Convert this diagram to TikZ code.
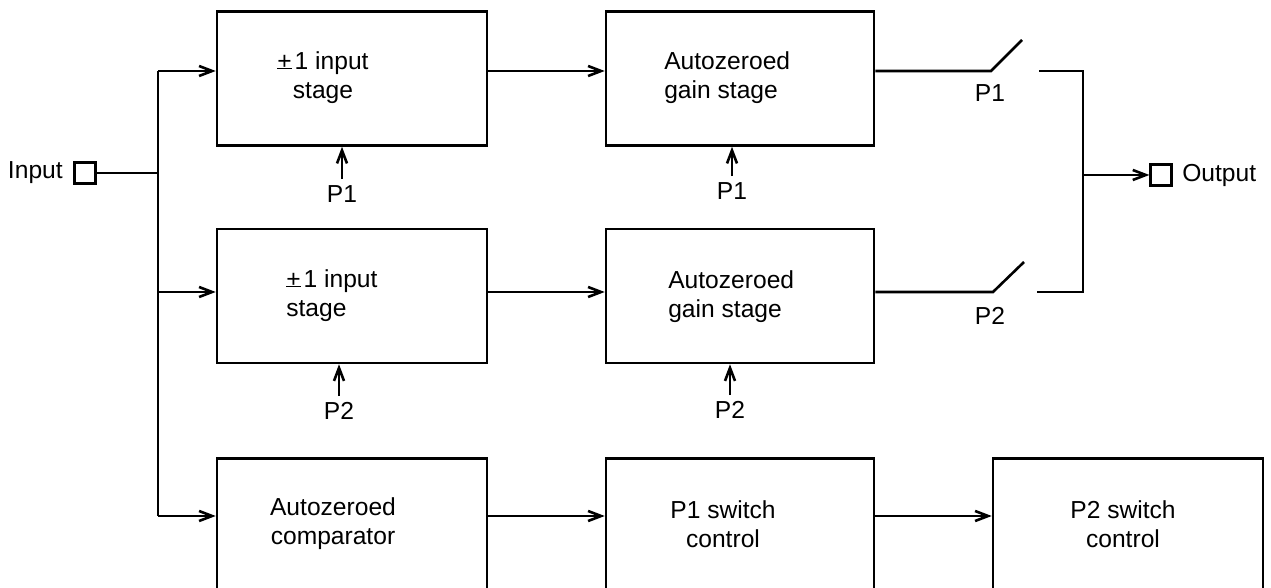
\documentclass[tikz,border=0pt]{standalone}
\usepackage{fontspec}
\setmainfont{Liberation Sans}
\usetikzlibrary{arrows.meta,positioning}

\newcommand{\pmone}{\rlap{\rule[0.3pt]{0.58em}{0.8pt}}+\kern1.5pt 1}

\begin{document}
\begin{tikzpicture}[x=0.5pt,y=-0.5pt,line width=1.3pt,
    blk/.style={draw,rectangle,minimum height=67pt,inner sep=0pt},
    blka/.style={blk,minimum width=135pt},
    blkb/.style={blk,minimum width=134pt},
    blkopen/.style={draw,rectangle,minimum height=100pt,inner sep=0pt,anchor=north},
    txt/.style={font=\fontsize{12.3}{14.5}\selectfont,inner sep=0pt},
    port/.style={draw,rectangle,minimum size=10.5pt,inner sep=0pt,line width=1.1pt},
    arr/.style={-{Straight Barb[length=6.5pt,width=5pt]}}]
  \useasboundingbox (0,0) rectangle (1271,588);

  % signal rows and buses
  \coordinate (r1) at (0,71);
  \coordinate (r2) at (0,292);
  \coordinate (r3) at (0,516);
  \coordinate (bus) at (158,0);
  \coordinate (obus) at (1083,175);

  % blocks
  \node[blka] (a1) at (352,78.5) {};
  \node[blkb] (b1) at (740,78.5) {};
  \node[blka] (a2) at (352,296) {};
  \node[blkb] (b2) at (740,296) {};
  \node[blkopen,minimum width=135pt] (cmp) at (352,457) {};
  \node[blkopen,minimum width=134pt] (sw1) at (740,457) {};
  \node[blkopen,minimum width=135pt] (sw2) at (1128,457) {};

  % block texts
  \node[txt,align=center] (a1t) at (323,78) {\pmone{} input\\stage};
  \node[txt,align=left,anchor=west] (b1t) at (663,78) {Autozeroed\\gain stage};
  \node[txt,align=left,anchor=west] (a2t) at (285,296) {\pmone{} input\\stage};
  \node[txt,align=left,anchor=west] (b2t) at (667,297) {Autozeroed\\gain stage};
  \node[txt,align=center] (cmpt) at (333,524) {Autozeroed\\comparator};
  \node[txt,align=center] (sw1t) at (723,524) {P1 switch\\control};
  \node[txt,align=center] (sw2t) at (1123,524) {P2 switch\\control};

  % ports
  \node[port] (inp) at (85,173) {};
  \node[txt,anchor=east] (inpt) at (64,173) {Input};
  \node[port] (outp) at (1161,175) {};
  \node[txt,anchor=west] (outpt) at (1181,175) {Output};

  % clock labels
  \node[txt] (p1a) at (342,194) {P1};
  \node[txt] (p1b) at (732,191) {P1};
  \node[txt] (p2a) at (339,411) {P2};
  \node[txt] (p2b) at (730,410) {P2};
  \node[txt] (p1s) at (990,93) {P1};
  \node[txt] (p2s) at (990,316) {P2};

  % input bus
  \draw (inp.east) -- (inp.east -| bus);
  \draw (bus |- r1) -- (bus |- r3);
  \draw[arr] (bus |- r1) -- (a1.west |- r1);
  \draw[arr] (bus |- r2) -- (a2.west |- r2);
  \draw[arr] (bus |- r3) -- (cmp.west |- r3);

  % forward paths
  \draw[arr] (a1.east |- r1) -- (b1.west |- r1);
  \draw[arr] (a2.east |- r2) -- (b2.west |- r2);
  \draw[arr] (cmp.east |- r3) -- (sw1.west |- r3);
  \draw[arr] (sw1.east |- r3) -- (sw2.west |- r3);

  % clock inputs
  \foreach \lb/\bk in {p1a/a1,p1b/b1,p2a/a2,p2b/b2}
    \draw[arr,shorten <=2.5pt] (\lb.north) -- (\lb.north |- \bk.south);

  % output switches
  \coordinate (s1a) at (991,71);
  \coordinate (s1b) at (1022,40);
  \coordinate (s1c) at (1039,71);
  \coordinate (s2a) at (993,292);
  \coordinate (s2b) at (1024,262);
  \coordinate (s2c) at (1037,292);
  \draw (b1.east |- r1) -- (s1a) -- (s1b);
  \draw (b2.east |- r2) -- (s2a) -- (s2b);
  \draw (s1c) -- (obus |- r1) -- (obus |- r2) -- (s2c);
  \draw[arr] (obus) -- (outp.west);
\end{tikzpicture}
\end{document}
